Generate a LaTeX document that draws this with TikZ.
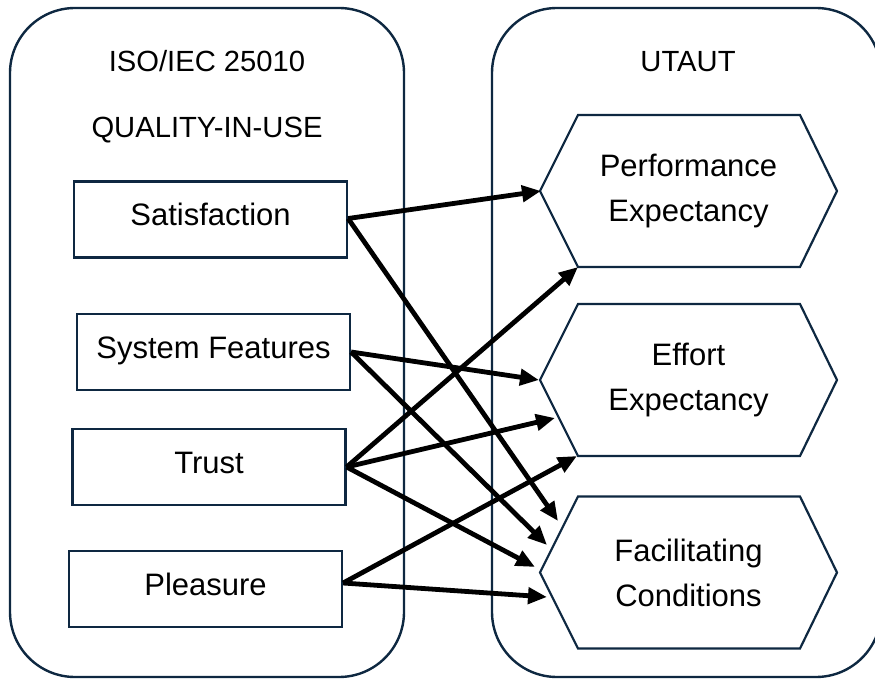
\documentclass[tikz,border=0pt]{standalone}
\usepackage{fontspec}
\setmainfont{Liberation Sans}
\usetikzlibrary{arrows.meta,calc}
\definecolor{navy}{HTML}{0E2841}
\begin{document}
\begin{tikzpicture}[x=1pt,y=-1pt,
  container/.style={draw=navy, line width=2.4pt, rounded corners=65pt},
  box/.style={draw=navy, line width=2.2pt, minimum width=273pt, minimum height=76pt,
    inner sep=0pt, text height=22pt, text depth=10pt, font=\fontsize{31}{37}\selectfont},
  hexline/.style={draw=navy, line width=2.2pt, line join=miter},
  hextext/.style={align=center, inner sep=0pt, font=\fontsize{31}{45}\selectfont},
  title/.style={inner sep=0pt, text height=21pt, text depth=0pt, font=\fontsize{29.2}{36}\selectfont},
  conn/.style={line width=4.8pt, -{Triangle[length=19pt,width=16pt]}}
]
\useasboundingbox (0,0) rectangle (875,679);
\fill[white] (0,0) rectangle (875,679);

% containers
\draw[container] (10,8) rectangle (404,677);
\draw[container] (492,8) rectangle (881,677);

% titles
\node[title] (isotitle) at (207,61) {ISO/IEC 25010};
\node[title] (qiu) at (207,127) {QUALITY-IN-USE};
\node[title] (utaut) at (688,61) {UTAUT};

% left boxes
\node[box] (sat)   at (210.5,219.5) {Satisfaction};
\node[box] (sysf)  at (213.5,352)   {System Features};
\node[box] (trust) at (209,467)     {Trust};
\node[box] (pleas) at (205.5,589)   {Pleasure};

% hexagons
\newcommand\hexat[1]{\draw[hexline] ($(#1)+(-148.5,0)$) -- ++(38,-76) -- ++(222,0)
   -- ++(37,76) -- ++(-37,76) -- ++(-222,0) -- cycle;}
\coordinate (perfC) at (688.5,191);
\coordinate (effC)  at (688.5,380);
\coordinate (facC)  at (688.5,572.5);
\hexat{perfC}
\hexat{effC}
\hexat{facC}
\node[hextext] (perf) at (perfC) {Performance\\Expectancy};
\node[hextext] (eff)  at (effC)  {Effort\\Expectancy};
\node[hextext] (fac)  at (facC)  {Facilitating\\Conditions};

% arrow targets
\coordinate (perfW)  at (541,191);
\coordinate (perfSW) at (578,267);
\coordinate (effW)   at (539,380);
\coordinate (effL)   at (555,418);
\coordinate (effSW)  at (577,456);
\coordinate (facA)   at (558,521);
\coordinate (facB)   at (547,545);
\coordinate (facCc)  at (535,567);
\coordinate (facD)   at (547,597);

% connectors
\draw[conn] ([yshift=1pt]sat.east) -- (perfW);
\draw[conn] ([yshift=1pt]sat.east) -- (facA);
\draw[conn] (sysf.east) -- (effW);
\draw[conn] (sysf.east) -- (facB);
\draw[conn] (trust.east) -- (perfSW);
\draw[conn] (trust.east) -- (effL);
\draw[conn] (trust.east) -- (facCc);
\draw[conn] ([yshift=6pt]pleas.east) -- (effSW);
\draw[conn] ([yshift=6pt]pleas.east) -- (facD);
\end{tikzpicture}
\end{document}
